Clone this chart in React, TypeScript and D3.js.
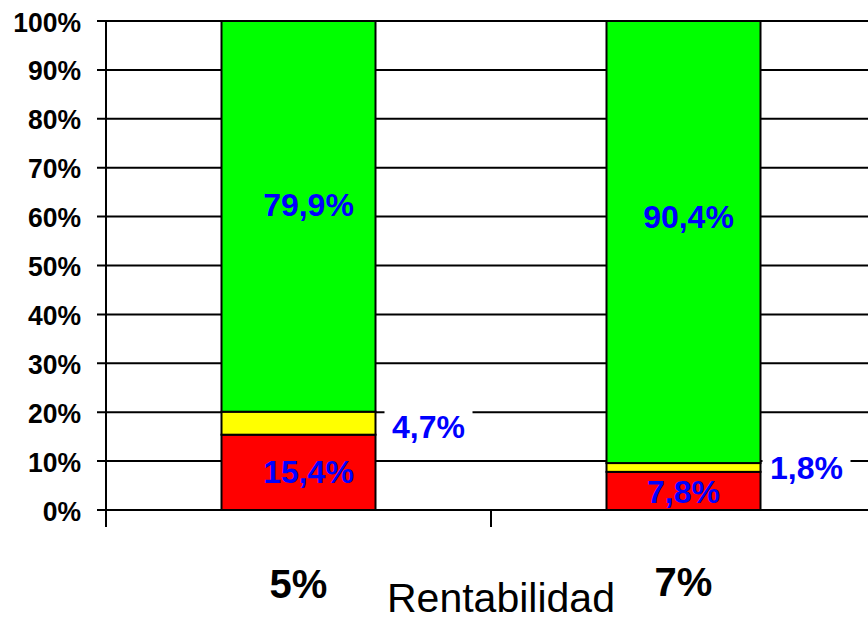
import React from "react";
import * as d3 from "d3";

const categories = ["5%", "7%"];
const redValues = [15.4, 7.8];
const yellowValues = [4.7, 1.8];
const greenValues = [79.9, 90.4];
const yTicks = [0, 10, 20, 30, 40, 50, 60, 70, 80, 90, 100];
const axisTitle = "Rentabilidad";

const W = 868;
const H = 626;
const FONT = "'Liberation Sans', Arial, sans-serif";

export default function App() {
  const x = d3.scaleBand<string>().domain(categories).range([106, 876]).paddingInner(0.6).paddingOuter(0.3);
  const y = d3.scaleLinear().domain([0, 100]).range([510, 21]);
  const step = x.step();
  const bw = x.bandwidth();

  const series = [
    { key: "red", values: redValues, color: "#FF0000" },
    { key: "yellow", values: yellowValues, color: "#FFFF00" },
    { key: "green", values: greenValues, color: "#00FF00" },
  ];
  const table = categories.map((c, i) => ({ cat: c, red: redValues[i], yellow: yellowValues[i], green: greenValues[i] }));
  const stacked = d3.stack<any>().keys(series.map((s) => s.key))(table);

  const fmt = (v: number) => v.toFixed(1).replace(".", ",") + "%";

  const labelPlace: Record<string, { dx: number; v: number; bg: boolean }[]> = {
    green: [
      { dx: 10, v: 60.1, bg: false },
      { dx: 5, v: 57.7, bg: false },
    ],
    yellow: [
      { dx: 130, v: 14.8, bg: true },
      { dx: 123, v: 6.3, bg: true },
    ],
    red: [
      { dx: 10, v: 5.5, bg: false },
      { dx: 0, v: 1.4, bg: false },
    ],
  };

  return (
    <svg width={W} height={H} style={{ position: "fixed", left: 0, top: 0, background: "#fff" }} fontFamily={FONT}>
      <rect x={0} y={0} width={W} height={H} fill="#fff" />
      {yTicks.map((t) => (
        <line key={"g" + t} x1={97} x2={W} y1={y(t)} y2={y(t)} stroke="#000" strokeWidth={2} />
      ))}
      <line x1={106} x2={106} y1={y(100)} y2={527} stroke="#000" strokeWidth={2} />
      {categories.slice(1).map((c) => (
        <line key={"xt" + c} x1={x(c)! - (step - bw) / 2} x2={x(c)! - (step - bw) / 2} y1={y(0)} y2={527} stroke="#000" strokeWidth={2} />
      ))}
      {yTicks.map((t) => (
        <text
          key={"t" + t}
          transform={`translate(81,${y(t) + 10.5}) scale(0.93,1)`}
          textAnchor="end"
          fontSize={28.5}
          fontWeight="bold"
          fill="#000"
        >
          {t + "%"}
        </text>
      ))}
      {stacked.map((layer, li) =>
        layer.map((d, i) => (
          <rect
            key={layer.key + i}
            x={x(categories[i])!}
            y={y(d[1])}
            width={bw}
            height={y(d[0]) - y(d[1])}
            fill={series[li].color}
            stroke="#000"
            strokeWidth={2}
          />
        ))
      )}
      {series.map((s) =>
        s.values.map((v, i) => {
          const p = labelPlace[s.key][i];
          const cx = x(categories[i])! + bw / 2 + p.dx;
          const by = y(p.v);
          return (
            <g key={"l" + s.key + i}>
              {p.bg && <rect x={cx - 44} y={by - 36} width={88} height={46} fill="#fff" />}
              <text x={cx} y={by} textAnchor="middle" fontSize={32} fontWeight="bold" fill="#0000FF">
                {fmt(v)}
              </text>
            </g>
          );
        })
      )}
      {categories.map((c, i) => (
        <text key={"c" + c} x={x(c)! + bw / 2} y={598 - i * 2} textAnchor="middle" fontSize={40} fontWeight="bold" fill="#000">
          {c}
        </text>
      ))}
      <text x={501} y={612} textAnchor="middle" fontSize={41} fill="#000">
        {axisTitle}
      </text>
    </svg>
  );
}
